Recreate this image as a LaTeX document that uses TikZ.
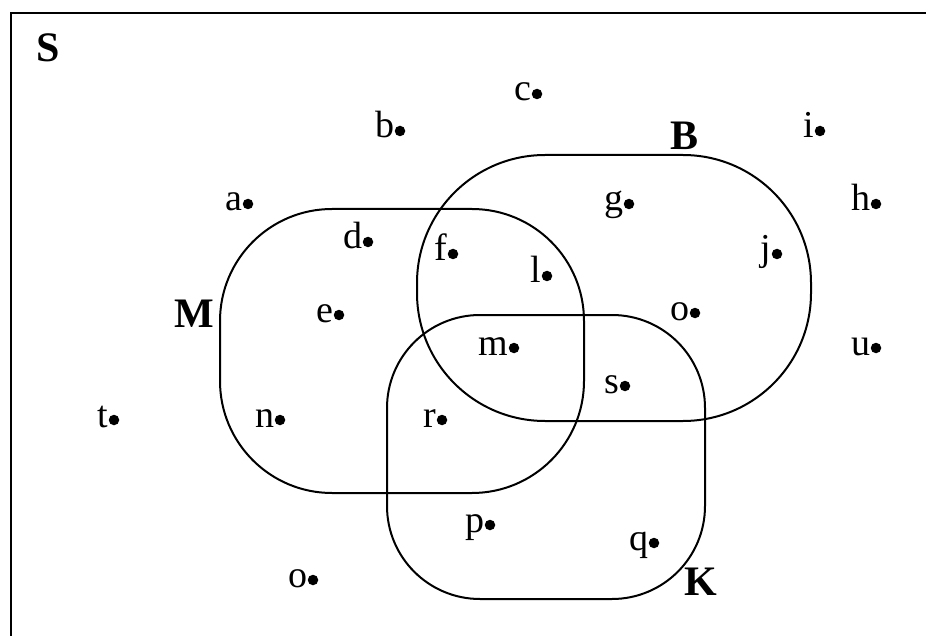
\documentclass[tikz,border=0pt]{standalone}
\usepackage{fontspec}
\setmainfont{Liberation Serif}
\begin{document}
\begin{tikzpicture}[x=1pt,y=-1pt,
  pt/.style={circle, fill=black, inner sep=0pt, minimum size=10.5pt},
  lab/.style={anchor=base east, inner sep=0pt, font=\fontsize{38}{40}\selectfont},
  setlab/.style={anchor=base west, inner sep=0pt, font=\bfseries\fontsize{42}{46}\selectfont},
  setline/.style={draw=black, line width=2pt},
  frame/.style={draw=black, line width=2.5pt}]
\useasboundingbox (0,0) rectangle (926,636);
\clip (0,0) rectangle (926,636);
\draw[frame] (11,13) rectangle (960,680);
% sets
\draw[setline, rounded corners=112pt] (220,209) rectangle (584,493);
\draw[setline, rounded corners=128pt] (417,155) rectangle (811,421);
\draw[setline, rounded corners=93pt] (387,315) rectangle (705,599);
% set labels
\node[setlab] (S) at (36,62) {S};
\node[setlab] (M) at (174,327) {M};
\node[setlab] (B) at (670,150) {B};
\node[setlab] (K) at (684,595) {K};
% points
\foreach \n/\t/\x/\y in {c/c/537/94, b/b/400/131, i/i/820/131, a/a/248/204, g/g/629/204, h/h/876/204,
  d/d/368/242, f/f/453/254, l/l/547/276, j/j/777/254, e/e/339/315, o1/o/695/313, m/m/514/348,
  u/u/876/348, s/s/625/386, t/t/114/420, n/n/280/420, r/r/442/420, p/p/490/525, q/q/654/543, o2/o/313/580}{
  \node[pt] (\n) at (\x,\y) {};
  \node[lab] (\n-l) at ([xshift=-5.5pt,yshift=-7pt]\n.center) {\t};
}
\end{tikzpicture}
\end{document}
